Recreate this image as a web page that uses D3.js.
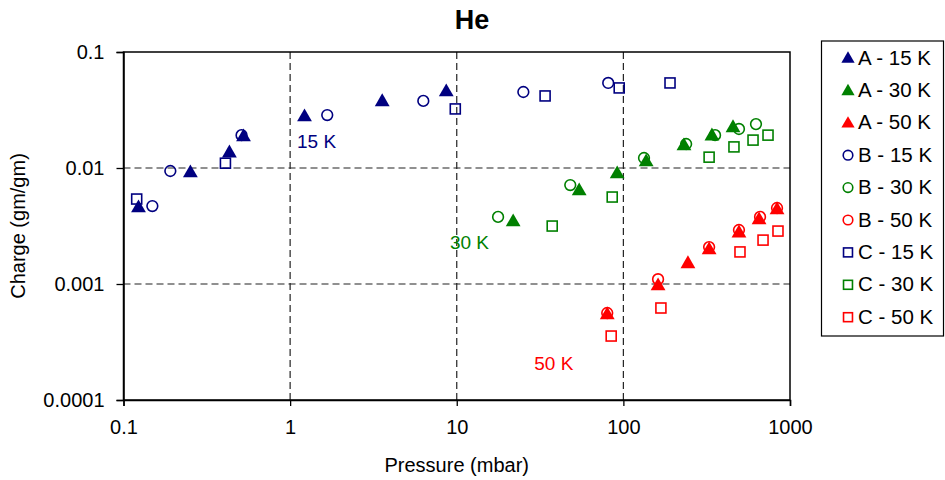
<!DOCTYPE html>
<html>
<head>
<meta charset="utf-8">
<title>He</title>
<script src="https://d3js.org/d3.v7.min.js"></script>
<style>
  body { margin: 0; background: #fff; }
  text { font-family: "Liberation Sans", Arial, sans-serif; }
</style>
</head>
<body>
<div id="chart"></div>
<script>
// tick values
var xTicks = [0.1, 1, 10, 100, 1000];
var yTicks = [0.1, 0.01, 0.001, 0.0001];
var xTickLabels = ["0.1", "1", "10", "100", "1000"];
var yTickLabels = ["0.1", "0.01", "0.001", "0.0001"];

// A series (filled triangles)
var a15P = [0.123, 0.252, 0.432, 0.525, 1.22, 3.57, 8.65];
var a15C = [0.00461, 0.00924, 0.0137, 0.0189, 0.0281, 0.0379, 0.0461];
var a30P = [21.8, 54.3, 91.8, 137, 231, 340, 455];
var a30C = [0.00349, 0.00646, 0.00906, 0.0115, 0.0158, 0.0192, 0.0226];
var a50P = [80, 161.5, 244, 327, 494, 652, 836];
var a50C = [0.000551, 0.00098, 0.00152, 0.0020, 0.0028, 0.00363, 0.00443];

// B series (open circles)
var b15P = [0.149, 0.191, 0.511, 1.67, 6.3, 25.1, 81.1];
var b15C = [0.0047, 0.00942, 0.0192, 0.0286, 0.0379, 0.0452, 0.0541];
var b30P = [17.7, 48.0, 133, 238, 355, 494, 625];
var b30C = [0.00379, 0.00713, 0.0122, 0.0161, 0.0192, 0.0217, 0.0239];
var b50P = [80, 161.5, 327, 494, 661, 836];
var b50C = [0.000562, 0.0011, 0.00208, 0.00292, 0.00379, 0.00452];

// C series (open squares)
var c15P = [0.120, 0.409, 9.8, 33.9, 94.4, 190.5];
var c15C = [0.0054, 0.0110, 0.0323, 0.0418, 0.0490, 0.0541];
var c30P = [37.4, 85.7, 327, 461, 600, 738];
var c30C = [0.00316, 0.00562, 0.0124, 0.0152, 0.0174, 0.0192];
var c50P = [84.5, 168, 501, 689, 847];
var c50C = [0.000356, 0.000621, 0.00189, 0.00239, 0.00286];

var seriesNames = ["A - 15 K", "A - 30 K", "A - 50 K", "B - 15 K", "B - 30 K", "B - 50 K", "C - 15 K", "C - 30 K", "C - 50 K"];
var seriesP = [a15P, a30P, a50P, b15P, b30P, b50P, c15P, c30P, c50P];
var seriesC = [a15C, a30C, a50C, b15C, b30C, b50C, c15C, c30C, c50C];
var seriesShape = ["tri", "tri", "tri", "circ", "circ", "circ", "sq", "sq", "sq"];
var seriesColor = ["#000080", "#008000", "#ff0000", "#000080", "#008000", "#ff0000", "#000080", "#008000", "#ff0000"];

// temperature annotations
var noteText = ["15 K", "30 K", "50 K"];
var noteP = [1.1, 9.1, 29.2];
var noteC = [0.0149, 0.0020, 0.000182];
var noteColor = ["#000080", "#008000", "#ff0000"];

var W = 945, H = 480;
var pLeft = 123.5, pRight = 790, pTop = 52, pBottom = 400;

var svg = d3.select("#chart").append("svg")
  .attr("width", W).attr("height", H);

var x = d3.scaleLog().domain([0.1, 1000]).range([pLeft, pRight]);
var y = d3.scaleLog().domain([0.0001, 0.1]).range([pBottom, pTop]);

// gridlines
svg.append("g").selectAll("line").data([1, 10, 100]).enter().append("line")
  .attr("x1", function (d) { return x(d); }).attr("x2", function (d) { return x(d); })
  .attr("y1", pTop).attr("y2", pBottom)
  .attr("stroke", "#222").attr("stroke-width", 1.2).attr("stroke-dasharray", "7,4");
svg.append("g").selectAll("line").data([0.01, 0.001]).enter().append("line")
  .attr("y1", function (d) { return y(d); }).attr("y2", function (d) { return y(d); })
  .attr("x1", pLeft).attr("x2", pRight)
  .attr("stroke", "#222").attr("stroke-width", 1.2).attr("stroke-dasharray", "7,4");

// frame
svg.append("rect").attr("x", pLeft).attr("y", pTop)
  .attr("width", pRight - pLeft).attr("height", pBottom - pTop)
  .attr("fill", "none").attr("stroke", "#000").attr("stroke-width", 1.5);

// axes
var xAxis = d3.axisBottom(x).tickValues(xTicks)
  .tickFormat(function (d, i) { return xTickLabels[i]; }).tickSize(6).tickPadding(14);
var yAxis = d3.axisLeft(y).tickValues(yTicks)
  .tickFormat(function (d, i) { return yTickLabels[i]; }).tickSize(7).tickPadding(12);

var gx = svg.append("g").attr("transform", "translate(0," + pBottom + ")").call(xAxis);
var gy = svg.append("g").attr("transform", "translate(" + pLeft + ",0)").call(yAxis);
[gx, gy].forEach(function (g) {
  g.select(".domain").attr("stroke", "#000").attr("stroke-width", 1.5);
  g.selectAll(".tick line").attr("stroke", "#000").attr("stroke-width", 1.3);
  g.selectAll(".tick text").attr("fill", "#000")
    .style("font-size", "20px").style("font-family", "'Liberation Sans', Arial, sans-serif");
});

// markers
function drawMarker(sel, shape, color, size) {
  if (shape == "tri") {
    sel.append("path").attr("d", d3.symbol().type(d3.symbolTriangle).size(size * 0.95)())
      .attr("transform", "translate(0,1)")
      .attr("fill", color);
  } else if (shape == "circ") {
    sel.append("circle").attr("r", Math.sqrt(size / Math.PI) * 0.95)
      .attr("fill", "none").attr("stroke", color).attr("stroke-width", 1.6);
  } else {
    var s = Math.sqrt(size);
    sel.append("rect").attr("x", -s / 2).attr("y", -s / 2).attr("width", s).attr("height", s)
      .attr("fill", "none").attr("stroke", color).attr("stroke-width", 1.6);
  }
}

var pts = svg.append("g");
seriesNames.forEach(function (name, k) {
  var data = seriesP[k].map(function (p, i) { return [p, seriesC[k][i]]; });
  pts.append("g").selectAll("g").data(data).enter().append("g")
    .attr("transform", function (d) { return "translate(" + x(d[0]) + "," + y(d[1]) + ")"; })
    .each(function () { drawMarker(d3.select(this), seriesShape[k], seriesColor[k], 100); });
});

// annotations
svg.append("g").selectAll("text").data(noteText).enter().append("text")
  .attr("x", function (d, i) { return x(noteP[i]); })
  .attr("y", function (d, i) { return y(noteC[i]); })
  .attr("fill", function (d, i) { return noteColor[i]; })
  .style("font-size", "19px")
  .text(function (d) { return d; });

// title and axis labels
svg.append("text").attr("x", 472).attr("y", 29).attr("text-anchor", "middle")
  .style("font-size", "27px").style("font-weight", "bold").text("He");
svg.append("text").attr("x", (pLeft + pRight) / 2).attr("y", 472).attr("text-anchor", "middle")
  .style("font-size", "20px").text("Pressure (mbar)");
svg.append("text").attr("transform", "translate(25," + ((pTop + pBottom) / 2) + ") rotate(-90)")
  .attr("text-anchor", "middle").style("font-size", "20px").text("Charge (gm/gm)");

// legend
var lg = svg.append("g");
lg.append("rect").attr("x", 821.5).attr("y", 41).attr("width", 122).attr("height", 295)
  .attr("fill", "#fff").attr("stroke", "#000").attr("stroke-width", 1.2);
seriesNames.forEach(function (name, k) {
  var row = lg.append("g").attr("transform", "translate(0," + (57 + k * 32.4) + ")");
  var m = row.append("g").attr("transform", "translate(848,1)");
  drawMarker(m, seriesShape[k], seriesColor[k], 80);
  row.append("text").attr("x", 858).attr("y", 7.5).style("font-size", "20.5px").text(name);
});
</script>
</body>
</html>
